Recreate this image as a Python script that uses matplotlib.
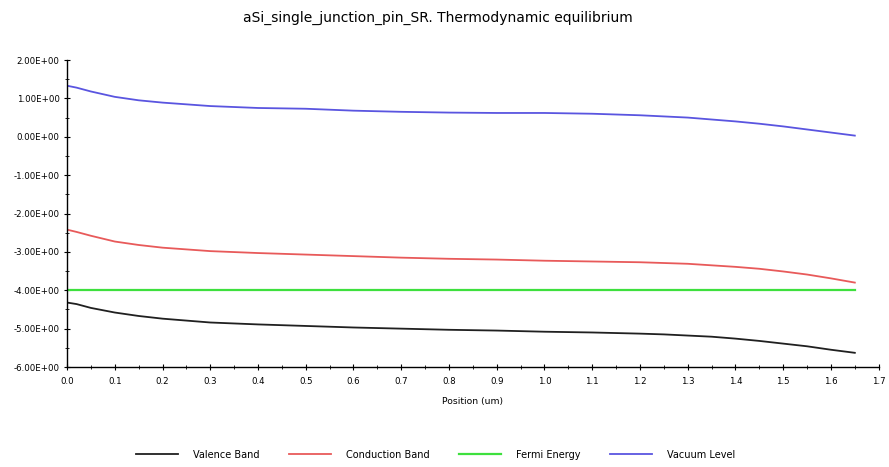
import matplotlib
matplotlib.use("Agg")
import matplotlib.pyplot as plt
from matplotlib.ticker import MultipleLocator, FormatStrFormatter

# Position (um) and band energies (eV)
position = [0.0, 0.02, 0.05, 0.1, 0.15, 0.2, 0.3, 0.4, 0.5, 0.6, 0.7, 0.8, 0.9,
            1.0, 1.1, 1.2, 1.25, 1.3, 1.35, 1.4, 1.45, 1.5, 1.55, 1.6, 1.65]
valence = [-4.32, -4.36, -4.46, -4.58, -4.67, -4.74, -4.84, -4.89, -4.93, -4.97, -5.0, -5.03, -5.05,
           -5.08, -5.10, -5.13, -5.15, -5.18, -5.21, -5.26, -5.32, -5.39, -5.46, -5.55, -5.63]
conduction = [-2.42, -2.48, -2.58, -2.73, -2.82, -2.89, -2.98, -3.03, -3.07, -3.11, -3.15, -3.18, -3.20,
              -3.23, -3.25, -3.27, -3.29, -3.31, -3.35, -3.39, -3.44, -3.51, -3.59, -3.69, -3.80]
fermi = [-4.0] * len(position)
vacuum = [1.33, 1.28, 1.18, 1.04, 0.95, 0.89, 0.80, 0.75, 0.73, 0.68, 0.65, 0.63, 0.62,
          0.62, 0.60, 0.56, 0.53, 0.50, 0.45, 0.40, 0.34, 0.27, 0.19, 0.11, 0.03]

fig = plt.figure(figsize=(8.89, 4.67), dpi=100)
ax = fig.add_axes([0.0754, 0.2141, 0.913, 0.6574])

ax.plot(position, valence, color="#202020", lw=1.3, label="Valence Band")
ax.plot(position, conduction, color="#e85a5a", lw=1.3, label="Conduction Band")
ax.plot(position, fermi, color="#3ee03e", lw=1.6, label="Fermi Energy")
ax.plot(position, vacuum, color="#5a55e0", lw=1.3, label="Vacuum Level")

ax.set_xlim(0, 1.7)
ax.set_ylim(-6, 2)
ax.xaxis.set_major_locator(MultipleLocator(0.1))
ax.xaxis.set_minor_locator(MultipleLocator(0.05))
ax.yaxis.set_major_locator(MultipleLocator(1))
ax.yaxis.set_minor_locator(MultipleLocator(0.5))
ax.xaxis.set_major_formatter(FormatStrFormatter("%.1f"))
ax.yaxis.set_major_formatter(FormatStrFormatter("%.2E"))
ax.tick_params(labelsize=6.2, direction="inout", length=4, width=0.8)
ax.tick_params(axis="x", pad=5)
ax.tick_params(which="minor", direction="inout", length=3, width=0.6)
for s in ("top", "right"):
    ax.spines[s].set_visible(False)
for s in ("left", "bottom"):
    ax.spines[s].set_linewidth(1.0)

ax.set_xlabel("Position (um)", fontsize=6.7, labelpad=8)
fig.text(0.493, 0.961, "aSi_single_junction_pin_SR. Thermodynamic equilibrium",
         fontsize=10, ha="center", va="center")

fig.legend(loc="center", bbox_to_anchor=(0.49, 0.026), ncol=4, fontsize=7,
           frameon=False, handlelength=4.3, handletextpad=1.6, columnspacing=3.0)

fig.savefig("out.png", dpi=100)
